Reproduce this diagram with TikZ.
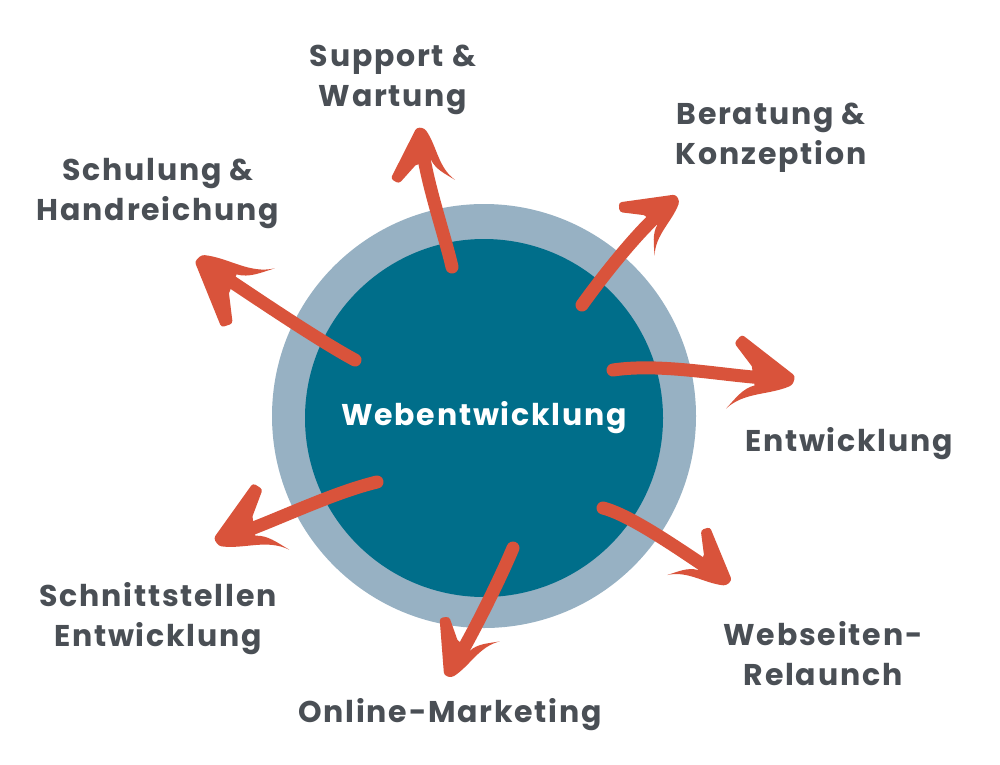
\documentclass[tikz,border=0pt]{standalone}
\usepackage{fontspec}
\setmainfont{Poppins}[LetterSpace=6]
\definecolor{ringc}{HTML}{97B1C3}
\definecolor{corec}{HTML}{006E8A}
\definecolor{arrc}{HTML}{D9533B}
\definecolor{txtc}{HTML}{4A4F55}
\tikzset{
  lbl/.style={font=\bfseries\fontsize{30}{40}\selectfont, text=txtc, align=center, inner sep=0pt},
  shaft/.style={draw=arrc, line width=13pt, line cap=round},
  ahead/.pic={
    \fill[arrc, rounded corners=3pt] (-44,-11) -- (-63,-33) -- (-56,-42) -- (0,-4) -- (-2,5)
      [sharp corners] .. controls (-25,17) and (-50,15) .. (-67,33)
      .. controls (-58,22) and (-52,12) .. (-40,8) -- cycle;
  }
}
\begin{document}
\begin{tikzpicture}[x=1pt,y=-1pt]
\useasboundingbox (0,0) rectangle (1000,764);
\fill[white] (0,0) rectangle (1000,764);
% circles
\node[circle, fill=ringc, minimum size=424pt, inner sep=0pt] (ring) at (484,416) {};
\node[circle, fill=corec, minimum size=358pt, inner sep=0pt, text=white,
      font=\bfseries\fontsize{30}{40}\selectfont] (hub) at (484,418) {Webentwicklung};
% labels
\node[lbl] (support) at (393,80) {Support \&\\Wartung};
\node[lbl] (beratung) at (771,138) {Beratung \&\\Konzeption};
\node[lbl] (schulung) at (158,194) {Schulung \&\\Handreichung};
\node[lbl] (entw) at (849,444) {Entwicklung};
\node[lbl] (relaunch) at (823,654) {Webseiten-\\Relaunch};
\node[lbl] (online) at (450,715) {Online-Marketing};
\node[lbl] (schnitt) at (158,619) {Schnittstellen\\Entwicklung};
% arrow coordinates
\coordinate (t1) at (452,267); \coordinate (b1) at (423,152); \coordinate (p1) at (420,127);
\coordinate (t2) at (582,305); \coordinate (b2) at (659,214); \coordinate (p2) at (678,197);
\coordinate (t3) at (613,370); \coordinate (b3) at (765,378); \coordinate (p3) at (795,380);
\coordinate (t4) at (603,508); \coordinate (b4) at (709,569); \coordinate (p4) at (730,583);
\coordinate (t5) at (513,548); \coordinate (b5) at (460,655); \coordinate (p5) at (447,677);
\coordinate (t6) at (377,482); \coordinate (b6) at (243,532); \coordinate (p6) at (215,542);
\coordinate (t7) at (355,360); \coordinate (b7) at (223,276); \coordinate (p7) at (197,258);
% shafts
\draw[shaft] (t1) .. controls (446,240) and (428,187) .. (b1);
\draw[shaft] (t2) .. controls (597,284) and (633,237) .. (b2);
\draw[shaft] (t3) .. controls (660,363) and (720,375) .. (b3);
\draw[shaft] (t4) .. controls (630,515) and (676,547) .. (b4);
\draw[shaft] (t5) .. controls (503,572) and (480,620) .. (b5);
\draw[shaft] (t6) .. controls (335,492) and (281,518) .. (b6);
\draw[shaft] (t7) .. controls (318,340) and (256,298) .. (b7);
% heads
\pic[rotate=97.3, scale=0.85] at (p1) {ahead};
\pic[rotate=42.1, scale=0.85] at (p2) {ahead};
\pic[rotate=-3.7] at (p3) {ahead};
\pic[rotate=-33.4, scale=0.85] at (p4) {ahead};
\pic[rotate=240.3, yscale=-1, scale=0.85] at (p5) {ahead};
\pic[rotate=200.3, yscale=-1] at (p6) {ahead};
\pic[rotate=146.2, scale=1.05] at (p7) {ahead};
\end{tikzpicture}
\end{document}
